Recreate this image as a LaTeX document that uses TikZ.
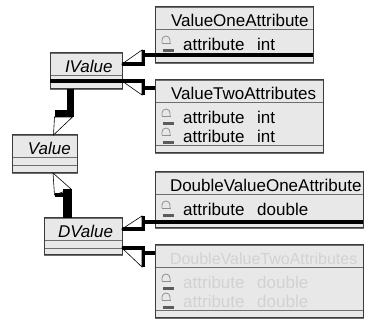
\documentclass[tikz,border=0pt]{standalone}
\usepackage{fontspec}
\setmainfont{Liberation Sans}
\usetikzlibrary{positioning, fit, calc}
\definecolor{ClassFill}{HTML}{E8E8E8}
\definecolor{ClassLine}{HTML}{3C3C3C}
\definecolor{PartLine}{HTML}{6E6E6E}
\definecolor{LockArc}{HTML}{909090}
\definecolor{LockBar}{HTML}{5C5C5C}
\definecolor{Faded}{HTML}{D2D2D2}

\begin{document}
\begin{tikzpicture}[
    x=1pt, y=1pt,
    cname/.style={
        fill=ClassFill, draw=PartLine, line width=0.7pt, anchor=north west,
        inner sep=0pt, outer sep=0pt, align=left, minimum height=22pt,
        text height=19.5pt, text depth=2.5pt, font=\fontsize{17}{20}\selectfont
    },
    cpart/.style={
        fill=ClassFill, draw=PartLine, line width=0.7pt,
        inner sep=0pt, outer sep=0pt
    },
    cframe/.style={draw=ClassLine, line width=1pt, inner sep=0pt},
    attr/.style={anchor=base west, inner sep=0pt, font=\fontsize{17}{20}\selectfont},
    conn/.style={line width=3.2pt},
    bar/.style={line width=3.5pt},
    tri/.style={draw=black, fill=white, line width=0.6pt},
    lock/.pic={
        \draw[LockArc, line width=0.8pt] (0,8) -- (0,11) arc[start angle=180, end angle=0, radius=4] -- (8,8);
        \draw[LockArc, line width=0.6pt] (-0.5,8) -- (8.5,8);
        \fill[LockBar] (1,-1) rectangle (12,2);
    }
]
\fill[white] (0,0) rectangle (365,-320);
\useasboundingbox (0,0) rectangle (365,-320);

% === ValueOneAttribute ===
\node[cname, text width=158pt] (voa) at (155,-7) {\hspace*{16pt}ValueOneAttribute};
\node[cpart, minimum width=158pt, minimum height=26pt, below=0pt of voa] (voa-a) {};
\node[cpart, minimum width=158pt, minimum height=8pt, below=0pt of voa-a] (voa-o) {};
\node[cframe, fit=(voa)(voa-o)] (voa-f) {};
\pic at ([shift={(7,-22)}]voa-a.north west) {lock};
\node[attr] (voa-n1) at ([shift={(28,-22)}]voa-a.north west) {attribute};
\node[attr] (voa-t1) at ([shift={(102,-22)}]voa-a.north west) {int};

% === ValueTwoAttributes ===
\node[cname, text width=168pt] (vta) at (155,-80) {\hspace*{16pt}ValueTwoAttributes};
\node[cpart, minimum width=168pt, minimum height=43pt, below=0pt of vta] (vta-a) {};
\node[cpart, minimum width=168pt, minimum height=8pt, below=0pt of vta-a] (vta-o) {};
\node[cframe, fit=(vta)(vta-o)] (vta-f) {};
\pic at ([shift={(7,-22)}]vta-a.north west) {lock};
\pic at ([shift={(7,-41)}]vta-a.north west) {lock};
\node[attr] (vta-n1) at ([shift={(28,-22)}]vta-a.north west) {attribute};
\node[attr] (vta-t1) at ([shift={(102,-22)}]vta-a.north west) {int};
\node[attr] (vta-n2) at ([shift={(28,-41)}]vta-a.north west) {attribute};
\node[attr] (vta-t2) at ([shift={(102,-41)}]vta-a.north west) {int};

% === IValue ===
\node[cname, text width=72pt] (ivalue) at (50,-53) {\hspace*{15pt}\textit{IValue}};
\node[cpart, minimum width=72pt, minimum height=6pt, below=0pt of ivalue] (ivalue-a) {};
\node[cpart, minimum width=72pt, minimum height=8pt, below=0pt of ivalue-a] (ivalue-o) {};
\node[cframe, fit=(ivalue)(ivalue-o)] (ivalue-f) {};

% === Value ===
\node[cname, text width=65pt] (value) at (12,-135) {\hspace*{16pt}\textit{Value}};
\node[cpart, minimum width=65pt, minimum height=8pt, below=0pt of value] (value-a) {};
\node[cpart, minimum width=65pt, minimum height=8pt, below=0pt of value-a] (value-o) {};
\node[cframe, fit=(value)(value-o)] (value-f) {};

% === DValue ===
\node[cname, text width=78pt] (dvalue) at (44,-218) {\hspace*{14pt}\textit{DValue}};
\node[cpart, minimum width=78pt, minimum height=8pt, below=0pt of dvalue] (dvalue-a) {};
\node[cpart, minimum width=78pt, minimum height=7pt, below=0pt of dvalue-a] (dvalue-o) {};
\node[cframe, fit=(dvalue)(dvalue-o)] (dvalue-f) {};

% === DoubleValueOneAttribute ===
\node[cname, text width=208pt] (dvoa) at (155,-172) {\hspace*{15pt}\mbox{DoubleValueOneAttribute}};
\node[cpart, minimum width=208pt, minimum height=28pt, below=0pt of dvoa] (dvoa-a) {};
\node[cpart, minimum width=208pt, minimum height=6pt, below=0pt of dvoa-a] (dvoa-o) {};
\node[cframe, fit=(dvoa)(dvoa-o)] (dvoa-f) {};
\pic at ([shift={(7,-22)}]dvoa-a.north west) {lock};
\node[attr] (dvoa-n1) at ([shift={(28,-22)}]dvoa-a.north west) {attribute};
\node[attr] (dvoa-t1) at ([shift={(102,-22)}]dvoa-a.north west) {double};

% === DoubleValueTwoAttributes (faded) ===
\node[cname, text width=208pt, text=Faded, font=\fontsize{16}{20}\selectfont] (dvta) at (155,-245)
    {\hspace*{15pt}\mbox{DoubleValueTwoAttributes}};
\node[cpart, minimum width=208pt, minimum height=43pt, below=0pt of dvta] (dvta-a) {};
\node[cpart, minimum width=208pt, minimum height=8pt, below=0pt of dvta-a] (dvta-o) {};
\node[cframe, fit=(dvta)(dvta-o)] (dvta-f) {};
\pic at ([shift={(7,-22)}]dvta-a.north west) {lock};
\pic at ([shift={(7,-41)}]dvta-a.north west) {lock};
\node[attr, text=Faded] (dvta-n1) at ([shift={(28,-22)}]dvta-a.north west) {attribute};
\node[attr, text=Faded] (dvta-t1) at ([shift={(102,-22)}]dvta-a.north west) {double};
\node[attr, text=Faded] (dvta-n2) at ([shift={(28,-41)}]dvta-a.north west) {attribute};
\node[attr, text=Faded] (dvta-t2) at ([shift={(102,-41)}]dvta-a.north west) {double};

% === Generalizations into IValue ===
\draw[tri] (ivalue.east) -- ++(20,14) -- ++(0,-14) -- cycle;
\draw[conn] (voa-o.north east) -- ([xshift=-11.5pt]voa-o.north west) |- (ivalue.east);
\draw[bar] ([shift={(21.5,14)}]ivalue.east) -- ++(0,-14);

\draw[tri] (ivalue-a.south east) -- ++(20,1) -- ++(0,-15) -- cycle;
\draw[conn] ([yshift=3pt]vta.west) -- ++(-11.5,0) |- (ivalue-a.south west);
\draw[bar] ([shift={(21.5,1)}]ivalue-a.south east) -- ++(0,-15);

% === Generalizations into Value ===
\draw[tri] ([xshift=9pt]value.north) -- ++(1,18) -- ++(18,0) -- cycle;
\draw[conn, line width=7pt] ([xshift=-15.5pt]ivalue-o.south) |- ([shift={(10.5,21.5)}]value.north);

\draw[tri] ([xshift=8.5pt]value-o.south) -- ++(1.5,-22) -- ++(16.5,6) -- cycle;
\draw[conn] ([shift={(10,-22)}]value-o.south) -- ++(9,0);
\draw[conn, line width=9pt] ([xshift=-16pt]dvalue.north) -- ([shift={(22.5,-16)}]value-o.south);

% === Generalizations into DValue ===
\draw[tri] (dvalue.east) -- ++(20,13) -- ++(0,-13) -- cycle;
\draw[conn] (dvoa-o.north east) -- ([xshift=-11.5pt]dvoa-o.north west) |- (dvalue.east);
\draw[bar] ([shift={(21.5,13)}]dvalue.east) -- ++(0,-13);

\draw[tri] (dvalue-a.south east) -- ++(20,1) -- ++(0,-20) -- cycle;
\draw[conn] ([yshift=3pt]dvta.west) -- ++(-11.5,0) |- (dvalue-a.south east);
\draw[bar] ([shift={(21.5,1)}]dvalue-a.south east) -- ++(0,-20);

\end{tikzpicture}
\end{document}
